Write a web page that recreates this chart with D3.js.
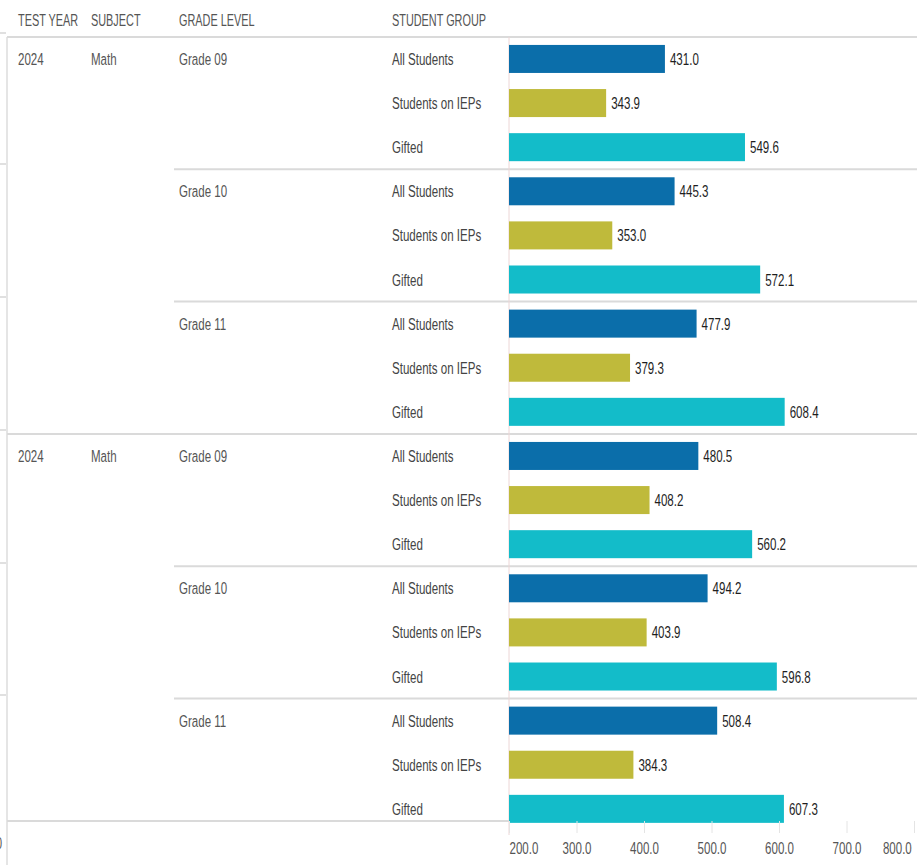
<!DOCTYPE html>
<html>
<head>
<meta charset="utf-8">
<script src="https://cdn.jsdelivr.net/npm/d3@7"></script>
<style>
    body { margin: 0; background: #fff; }
    svg { display: block; }
    text { font-family: "Liberation Sans", Arial, sans-serif; font-size: 16px; }
    .hdr { fill: #555; }
    .cell { fill: #555; font-size: 17px; }
    .grp { fill: #444; font-size: 17px; }
    .val { fill: #1e1e1e; font-size: 17px; }
    .sep { stroke: #dadada; stroke-width: 2; }
    .tick-lbl { fill: #555; }
</style>
</head>
<body>
<svg width="917" height="865"></svg>
<script>
// Chart data
var headers = ["TEST YEAR", "SUBJECT", "GRADE LEVEL", "STUDENT GROUP"];
var blockYears = ["2024", "2024"];
var blockSubjects = ["Math", "Math"];
var gradeLevels = ["Grade 09", "Grade 10", "Grade 11"];
var studentGroups = ["All Students", "Students on IEPs", "Gifted"];
// one row per block, grade by grade, group by group
var block1Values = [431.0, 343.9, 549.6, 445.3, 353.0, 572.1, 477.9, 379.3, 608.4];
var block2Values = [480.5, 408.2, 560.2, 494.2, 403.9, 596.8, 508.4, 384.3, 607.3];
var xTicks = [200, 300, 400, 500, 600, 700, 800];

var groupColors = {
    "All Students": "#0b6eaa",
    "Students on IEPs": "#bfba3b",
    "Gifted": "#13bcc9"
};

var svg = d3.select("svg");
var squeeze = 0.68;   // narrow look of the report font

// text helper: squeezed horizontally around its anchor point
function label(parent, cls, x, y, str) {
    return parent.append("text")
        .attr("class", cls)
        .attr("transform", "translate(" + x + "," + y + ") scale(" + squeeze + ",1)")
        .text(str);
}

// Flatten into rows
var rows = [];
[block1Values, block2Values].forEach(function (vals, b) {
    vals.forEach(function (v, i) {
        var g = Math.floor(i / 3), s = i % 3;
        rows.push({
            id: b + "-" + g + "-" + s,
            block: b, grade: gradeLevels[g], gi: g, group: studentGroups[s], si: s, value: v
        });
    });
});

// Scales
var tableTop = 37, rowStep = 44.1;
var yScale = d3.scaleBand()
    .domain(rows.map(d => d.id))
    .range([tableTop, tableTop + rows.length * rowStep])
    .paddingInner(0.365)
    .paddingOuter(0.18);
var xScale = d3.scaleLinear().domain([200, 800]).range([509, 914]);

var bottomLine = 821;
var colX = [18, 91, 179, 392];

// Left edge stubs (neighbouring visual)
[33, 164, 297, 430, 563, 695].forEach(function (y) {
    svg.append("line").attr("x1", 0).attr("x2", 6).attr("y1", y).attr("y2", y)
        .attr("stroke", "#d6d6d6").attr("stroke-width", 1.5);
});
svg.append("line").attr("x1", 7).attr("x2", 7).attr("y1", tableTop).attr("y2", 865)
    .attr("stroke", "#dcdcdc").attr("stroke-width", 1.5);
label(svg, "tick-lbl", -4, 849, "0");

// Headers
headers.forEach(function (h, i) {
    label(svg, "hdr", colX[i], 26, h);
});
svg.append("line").attr("class", "sep").attr("x1", 7).attr("x2", 917).attr("y1", tableTop).attr("y2", tableTop);

// Separators between grade groups and blocks
var rowMid = function (d) { return yScale(d.id) + yScale.bandwidth() / 2; };
rows.forEach(function (d, i) {
    if (i === 0 || d.si !== 0) return;
    var y = (rowMid(rows[i - 1]) + rowMid(d)) / 2;
    svg.append("line").attr("class", "sep")
        .attr("x1", d.gi === 0 ? 7 : 174).attr("x2", 917)
        .attr("y1", y).attr("y2", y);
});
svg.append("line").attr("class", "sep").attr("x1", 7).attr("x2", 509)
    .attr("y1", bottomLine).attr("y2", bottomLine);

// Axis baseline
svg.append("line").attr("x1", xScale(200)).attr("x2", xScale(200))
    .attr("y1", tableTop).attr("y2", bottomLine + 14)
    .attr("stroke", "#ecd6d6").attr("stroke-width", 1);

// Row labels
rows.forEach(function (d) {
    var y = rowMid(d) + 6;
    if (d.gi === 0 && d.si === 0) {
        label(svg, "cell", colX[0], y, blockYears[d.block]);
        label(svg, "cell", colX[1], y, blockSubjects[d.block]);
    }
    if (d.si === 0) label(svg, "cell", colX[2], y, d.grade);
    label(svg, "grp", colX[3], y, d.group);
});

// Bars
svg.append("g").selectAll("rect")
    .data(rows)
    .join("rect")
    .attr("x", xScale(200))
    .attr("y", d => yScale(d.id))
    .attr("width", d => xScale(d.value) - xScale(200))
    .attr("height", yScale.bandwidth())
    .attr("fill", d => groupColors[d.group]);

// Value labels
var valG = svg.append("g");
rows.forEach(function (d) {
    label(valG, "val", xScale(d.value) + 5, rowMid(d) + 6, d3.format(".1f")(d.value));
});

// X axis
var axis = svg.append("g")
    .attr("transform", "translate(0," + bottomLine + ")")
    .call(d3.axisBottom(xScale).tickValues(xTicks).tickFormat(d3.format(".1f")).tickSize(12));
axis.select(".domain").remove();
axis.selectAll(".tick line").attr("stroke", "#e4e4e4");
axis.selectAll(".tick text")
    .attr("class", "tick-lbl")
    .attr("y", 33)
    .attr("dy", null)
    .attr("transform", "scale(" + squeeze + ",1)")
    .attr("text-anchor", (d, i) => i === 0 ? "start" : (i === xTicks.length - 1 ? "end" : "middle"))
    .attr("x", (d, i) => i === xTicks.length - 1 ? -4 : 0)
    .style("font-size", "17px")
    .style("font-family", null);
axis.attr("font-family", null).attr("font-size", null);
</script>
</body>
</html>
